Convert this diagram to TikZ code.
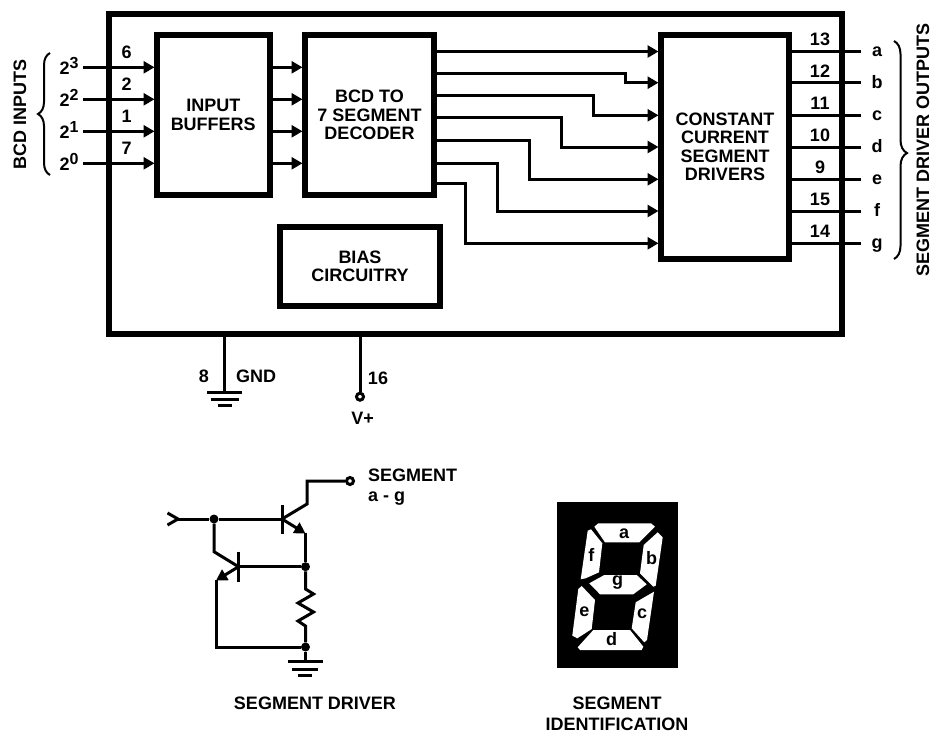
\documentclass[tikz,border=0pt]{standalone}
\usepackage{fontspec}
\setmainfont{Liberation Sans}
\usetikzlibrary{arrows.meta}
\usetikzlibrary{decorations.pathreplacing}
\newcommand{\pw}[1]{2\raisebox{5.5pt}{\fontsize{16}{16}\selectfont #1}}
\tikzset{
  block/.style={draw,line width=6pt,align=center,inner sep=0pt},
  lbl/.style={inner sep=0pt,anchor=base},
  wire/.style={line width=3pt},
  sig/.style={line width=3pt,-{Triangle[length=11pt,width=12pt]},shorten >=-0.5pt},
  dot/.style={circle,fill=black,inner sep=0pt,minimum size=9pt},
  pin/.style={circle,draw,fill=white,line width=3pt,inner sep=0pt,minimum size=7pt},
  curly/.style={decorate,line width=2pt},
  seg/.style={fill=white,draw=none}
}
\begin{document}
\begin{tikzpicture}[x=1pt,y=-1pt,font=\fontsize{18}{18.4}\selectfont\bfseries]
\useasboundingbox (0,0) rectangle (932,734);
% blocks
\node[block,minimum width=733pt,minimum height=320pt] (chip) at (475.5,174) {};
\node[block,minimum width=112.5pt,minimum height=160pt] (buffers) at (213.25,115) {INPUT\\BUFFERS};
\node[block,minimum width=129pt,minimum height=160pt] (decoder) at (369.5,115) {BCD TO\\7 SEGMENT\\DECODER};
\node[block,minimum width=128pt,minimum height=224pt] (drivers) at (725,147) {CONSTANT\\CURRENT\\SEGMENT\\DRIVERS};
\node[block,minimum width=160pt,minimum height=79pt] (bias) at (360,266.5) {BIAS\\CIRCUITRY};
% inputs
\coordinate (in3) at (83,67.3);
\coordinate (in2) at (83,99.3);
\coordinate (in1) at (83,131.3);
\coordinate (in0) at (83,163.3);
\draw[sig] (in3) to (in3 -| buffers.west);
\draw[sig] (in2) to (in2 -| buffers.west);
\draw[sig] (in1) to (in1 -| buffers.west);
\draw[sig] (in0) to (in0 -| buffers.west);
\draw[sig] (in3 -| buffers.east) to (in3 -| decoder.west);
\draw[sig] (in2 -| buffers.east) to (in2 -| decoder.west);
\draw[sig] (in1 -| buffers.east) to (in1 -| decoder.west);
\draw[sig] (in0 -| buffers.east) to (in0 -| decoder.west);
\node[lbl] (pow3) at (69,74) {\pw{3}};
\node[lbl] (pow2) at (69,106) {\pw{2}};
\node[lbl] (pow1) at (69,138) {\pw{1}};
\node[lbl] (pow0) at (69,170) {\pw{0}};
\node[lbl] (pin6) at (126.7,58.3) {6};
\node[lbl] (pin2) at (126.7,90.3) {2};
\node[lbl] (pin1) at (126.7,122.3) {1};
\node[lbl] (pin7) at (126.7,154.3) {7};
\coordinate (lbtm) at (50,175);
\coordinate (ltop) at (50,53);
\draw[curly,decoration={brace,amplitude=12pt}] (lbtm) to (ltop);
\node[rotate=90,inner sep=0pt] (bcdin) at (20,114) {BCD INPUTS};
% decoder to drivers
\draw[sig] (decoder.east |- 0,51.5) to (drivers.west |- 0,51.5);
\draw[sig] (decoder.east |- 0,73) -| (625.7,82.7) to (drivers.west |- 0,82.7);
\draw[sig] (decoder.east |- 0,95.3) -| (593.7,115.3) to (drivers.west |- 0,115.3);
\draw[sig] (decoder.east |- 0,117.3) -| (561.7,147) to (drivers.west |- 0,147);
\draw[sig] (decoder.east |- 0,140.3) -| (529.7,179.3) to (drivers.west |- 0,179.3);
\draw[sig] (decoder.east |- 0,163.3) -| (497.7,211) to (drivers.west |- 0,211);
\draw[sig] (decoder.east |- 0,183.3) -| (465.7,243.3) to (drivers.west |- 0,243.3);
% outputs
\draw[wire] (drivers.east |- 0,51.5) to (861,51.5);
\draw[wire] (drivers.east |- 0,82.7) to (861,82.7);
\draw[wire] (drivers.east |- 0,115.3) to (861,115.3);
\draw[wire] (drivers.east |- 0,147) to (861,147);
\draw[wire] (drivers.east |- 0,179.3) to (861,179.3);
\draw[wire] (drivers.east |- 0,211) to (861,211);
\draw[wire] (drivers.east |- 0,243.3) to (861,243.3);
\node[lbl] (pin13) at (820,45.3) {13};
\node[lbl] (pin12) at (820,77.3) {12};
\node[lbl] (pin11) at (820,109.3) {11};
\node[lbl] (pin10) at (820,141.3) {10};
\node[lbl] (pin9)  at (820,173.3) {9};
\node[lbl] (pin15) at (820,205.3) {15};
\node[lbl] (pin14) at (820,237.3) {14};
\node[lbl] (outa) at (877,56.7) {a};
\node[lbl] (outb) at (877,88.7) {b};
\node[lbl] (outc) at (877,120.7) {c};
\node[lbl] (outd) at (877,152.7) {d};
\node[lbl] (oute) at (877,184.7) {e};
\node[lbl] (outf) at (877,216.7) {f};
\node[lbl] (outg) at (877,248.7) {g};
\coordinate (rtop) at (894,41);
\coordinate (rbtm) at (894,259);
\draw[curly,decoration={brace,amplitude=13pt,aspect=0.514}] (rtop) to (rbtm);
\node[rotate=90,inner sep=0pt] (segout) at (923,150) {SEGMENT DRIVER OUTPUTS};
% supply pins
\coordinate (gnd) at (224,392);
\draw[wire] (chip.south -| gnd) to (gnd);
\draw[wire] (207,392) to (242,392);
\draw[wire] (211,399) to (239,399);
\draw[wire] (218,405.5) to (232,405.5);
\node[lbl] (pin8) at (204,382) {8};
\node[lbl] (gndtxt) at (256,382) {GND};
\node[pin] (vplus) at (360,396.7) {};
\draw[wire] (chip.south -| vplus) to (vplus);
\node[lbl] (pin16) at (378,384) {16};
\node[lbl] (vtxt) at (362.7,424) {V+};
% segment driver circuit
\node[dot] (d1) at (214,519) {};
\node[dot] (d2) at (305.5,566.7) {};
\node[dot] (d3) at (305.5,647) {};
\node[pin] (segpin) at (350,481) {};
\coordinate (q1b) at (282,519);
\coordinate (q2b) at (238.5,566.7);
\coordinate (inp) at (178,519);
\draw[wire] (167.5,513) to (inp) to (167.5,525);
\draw[wire] (inp) to (d1) to (q1b);
\draw[wire] (282,505) to (282,534);
\draw[wire] (q1b) to (307,504) to (307,481) to (segpin);
\draw[line width=3pt,-{Triangle[length=11pt,width=12pt]}] (q1b) to (305.5,533.5);
\draw[wire] (305.5,533) to (d2);
\draw[wire] (d1) to (214,551.7) to (q2b);
\draw[wire] (238.5,551.7) to (238.5,581.7);
\draw[wire] (q2b) to (d2);
\draw[line width=3pt,-{Triangle[length=11pt,width=12pt]}] (q2b) to (216,580.5);
\draw[wire] (216,580) to (216,647) to (d3);
\draw[wire] (d2) to (305.5,589) to (313.5,594) to (298,603) to (313.5,612) to (298,621) to (305.5,626) to (d3);
\coordinate (gnd2) at (305.5,661.5);
\draw[wire] (d3) to (gnd2);
\draw[wire] (288,661.5) to (323,661.5);
\draw[wire] (292,669) to (318,669);
\draw[wire] (298,675.5) to (312,675.5);
\node[lbl,anchor=base west] (segtxt) at (368,481.7) {SEGMENT};
\node[lbl,anchor=base west] (agtxt) at (368,501.7) {a - g};
\node[lbl] (drvcap) at (315,709) {SEGMENT DRIVER};
% segment identification
\fill (557,502.3) rectangle (677.7,667.7);
\fill[seg] (594.3,526.7) -- (598.3,523.3) -- (651,523.3) -- (655,526.7) -- (639.3,542.3) -- (605,542.3) -- cycle;
\fill[seg] (657.7,532.3) -- (662.7,537.3) -- (655.7,585.7) -- (653.3,586.7) -- (640,573.3) -- (643.7,545) -- cycle;
\fill[seg] (587.7,530.7) -- (591,529.3) -- (602.3,543.3) -- (599,572.3) -- (585.7,578.3) -- (580.7,579.3) -- cycle;
\fill[seg] (589.3,583.3) -- (604.3,575) -- (636.7,575) -- (646.7,584.3) -- (633.3,594.3) -- (600,594.3) -- cycle;
\fill[seg] (578.3,589) -- (581.7,586) -- (595,600) -- (591.7,629) -- (577.3,638.3) -- (572.3,635.7) -- cycle;
\fill[seg] (654,591.7) -- (647,640) -- (644.3,642.3) -- (631.7,628.3) -- (635.7,602.3) -- cycle;
\fill[seg] (577.7,647.3) -- (593.3,630) -- (630,630) -- (643.3,646.7) -- (641.7,650) -- (580,650) -- cycle;
\node[lbl] (sega) at (624,538.5) {a};
\node[lbl] (segb) at (651.5,564) {b};
\node[lbl] (segc) at (642,618) {c};
\node[lbl] (segd) at (611.7,645) {d};
\node[lbl] (sege) at (584.3,616) {e};
\node[lbl] (segf) at (591.3,561) {f};
\node[lbl] (segg) at (617.7,585) {g};
\node[lbl] (idcap1) at (617,709) {SEGMENT};
\node[lbl] (idcap2) at (617,730) {IDENTIFICATION};
\end{tikzpicture}
\end{document}
